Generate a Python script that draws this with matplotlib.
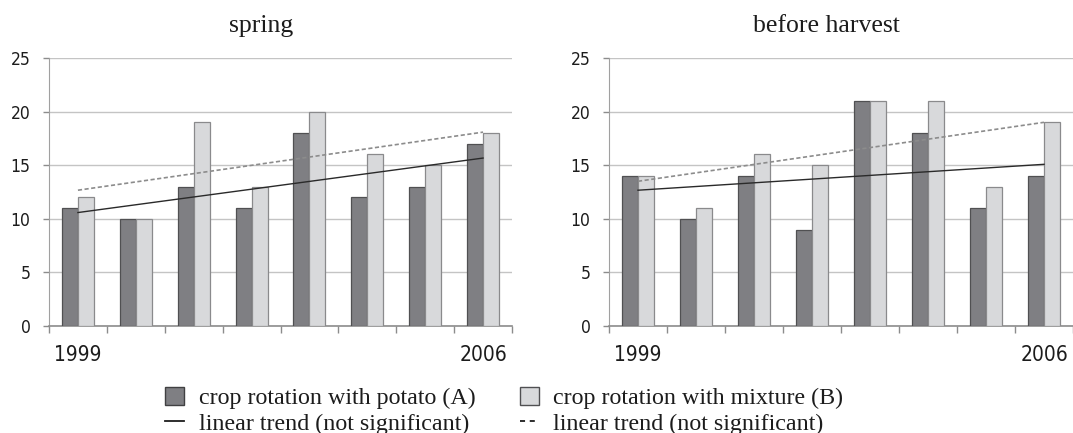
import numpy as np
import matplotlib

matplotlib.use("Agg")
import matplotlib.pyplot as plt
from matplotlib.patches import Patch
from matplotlib.lines import Line2D

# data
years = list(range(1999, 2007))
spring_a = [11, 10, 13, 11, 18, 12, 13, 17]
spring_b = [12, 10, 19, 13, 20, 16, 15, 18]
harvest_a = [14, 10, 14, 9, 21, 18, 11, 14]
harvest_b = [14, 11, 16, 15, 21, 21, 13, 19]
panel_titles = ["spring", "before harvest"]
legend_labels = [
    "crop rotation with potato (A)",
    "linear trend (not significant)",
    "crop rotation with mixture (B)",
    "linear trend (not significant)",
]

DARK = "#7f7f83"
LIGHT = "#d8d9db"
SERIF = "Liberation Serif"
INK = "#1c1c1c"


def draw_panel(ax, a, b):
    x = np.arange(len(years))
    w = 0.276
    ax.bar(x - w / 2, a, width=w, color=DARK, edgecolor="#505052",
           linewidth=0.9, zorder=3)
    ax.bar(x + w / 2, b, width=w, color=LIGHT, edgecolor="#8a8a8c",
           linewidth=0.9, zorder=3)

    # linear trends through the group centres
    for vals, style in ((a, dict(color="#2a2a2a", lw=1.0, ls="-")),
                        (b, dict(color="#8c8c8c", lw=1.2, ls=(0, (2.5, 1.5))))):
        k, c = np.polyfit(x, vals, 1)
        ax.plot(x, k * x + c, zorder=4, **style)

    ax.set_xlim(-0.5, len(years) - 0.5)
    ax.set_ylim(0, 25)
    ax.set_yticks(range(0, 26, 5))
    ax.yaxis.grid(True, color="#c4c4c4", lw=1.0, zorder=0)
    ax.set_axisbelow(True)

    ax.set_xticks([0, len(years) - 1])
    ax.set_xticklabels([str(years[0]), str(years[-1])])
    ax.set_xticks(np.arange(-0.5, len(years), 1.0), minor=True)
    ax.tick_params(axis="x", which="major", length=0, pad=14)
    ax.tick_params(axis="x", which="minor", length=5, width=1.0,
                   color="#8c8c8c", direction="out")
    ax.tick_params(axis="y", length=4.3, width=1.0, color="#8c8c8c", pad=9)
    for lab in ax.get_xticklabels():
        lab.set(fontsize=15, fontstretch="condensed", color=INK)
    for lab in ax.get_yticklabels():
        lab.set(fontsize=12.5, fontstretch="condensed", color=INK)

    for side in ("top", "right"):
        ax.spines[side].set_visible(False)
    ax.spines["left"].set_color("#a0a0a0")
    ax.spines["bottom"].set_color("#8c8c8c")
    ax.spines["bottom"].set_linewidth(1.2)


fig = plt.figure(figsize=(10.73, 4.33), dpi=100)
W, H = 1073.0, 433.0
bottom = (H - 326) / H
height = (326 - 58) / H
ax1 = fig.add_axes([49 / W, bottom, (512 - 49) / W, height])
ax2 = fig.add_axes([609 / W, bottom, (1073 - 609) / W, height])

draw_panel(ax1, spring_a, spring_b)
draw_panel(ax2, harvest_a, harvest_b)

fig.text(261 / W, 1 - 32 / H, panel_titles[0], ha="center", va="baseline",
         family=SERIF, fontsize=18.5, color=INK)
fig.text(826 / W, 1 - 32 / H, panel_titles[1], ha="center", va="baseline",
         family=SERIF, fontsize=18.5, color=INK)

handles = [
    Patch(facecolor=DARK, edgecolor="#404042", linewidth=1.0),
    Line2D([], [], color=INK, lw=1.3),
    Patch(facecolor=LIGHT, edgecolor="#505052", linewidth=1.0),
    Line2D([], [], color=INK, lw=1.3, ls=(0, (2.8, 2.6))),
]
fig.legend(handles, legend_labels, ncol=2, loc="upper left",
           bbox_to_anchor=(165 / W, 1 - 387 / H), frameon=False,
           prop=dict(family=SERIF, size=17.3), handlelength=0.8,
           handleheight=0.78, handletextpad=0.6, columnspacing=1.85,
           borderpad=0, borderaxespad=0, labelspacing=0.12,
           labelcolor=INK)

fig.savefig("out.png", dpi=100)
